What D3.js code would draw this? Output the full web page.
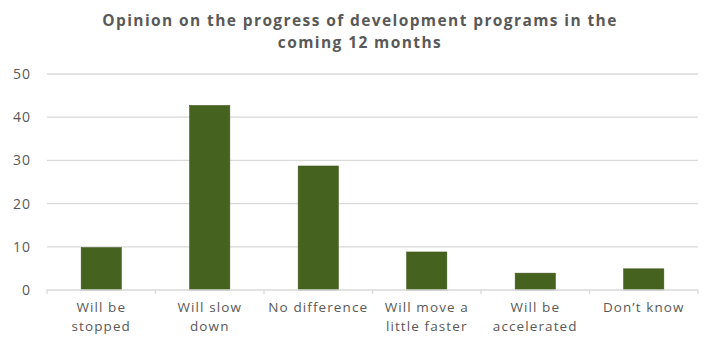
<!DOCTYPE html>
<html><head><meta charset="utf-8">
<script src="https://cdn.jsdelivr.net/npm/d3@7"></script>
<style>body{margin:0;background:#fff;} svg{display:block;}</style>
</head><body>
<svg id="c" width="716" height="342"></svg>
<script>
const categories = [["Will be","stopped"],["Will slow","down"],["No difference"],["Will move a","little faster"],["Will be","accelerated"],["Don\u2019t know"]];
const values = [9.8, 42.7, 28.7, 8.8, 3.9, 4.9];
const yTicks = [0,10,20,30,40,50];
const titleLines = ["Opinion on the progress of development programs in the","coming 12 months"];

(function(){
const svg = d3.select("#c");
const font = "'Open Sans', 'Noto Sans', sans-serif";
const mLeft = 47, mRight = 698, mTop = 74, mBottom = 290;
const keys = categories.map((d,i)=>i);
const x = d3.scaleBand().domain(keys).range([mLeft,mRight]).paddingInner(0.63).paddingOuter(0.315);
const xb = d3.scaleBand().domain(keys).range([mLeft,mRight]);
const y = d3.scaleLinear().domain([0,50]).range([mBottom,mTop]);

svg.append("g").selectAll("line").data(yTicks.filter(t=>t>0)).join("line")
  .attr("x1",mLeft).attr("x2",mRight).attr("y1",d=>y(d)).attr("y2",d=>y(d))
  .attr("stroke","#d9d9d9").attr("stroke-width",1.3);

svg.append("g").selectAll("text").data(yTicks).join("text")
  .attr("x",31).attr("y",d=>y(d)).attr("dy","0.35em").attr("text-anchor","end")
  .attr("font-family",font).attr("font-size",14).attr("letter-spacing",1).attr("fill","#595959").text(d=>d);

svg.append("g").selectAll("rect").data(values).join("rect")
  .attr("x",(d,i)=>x(i)).attr("width",x.bandwidth())
  .attr("y",d=>y(d)).attr("height",d=>y(0)-y(d))
  .attr("fill","#46621f").attr("stroke","#3d5619").attr("stroke-width",0.6);

svg.append("line").attr("x1",mLeft).attr("x2",mRight).attr("y1",mBottom).attr("y2",mBottom)
  .attr("stroke","#d9d9d9").attr("stroke-width",1.3);
svg.append("g").selectAll("line").data(d3.range(categories.length+1)).join("line")
  .attr("x1",d=>mLeft+d*xb.step()).attr("x2",d=>mLeft+d*xb.step())
  .attr("y1",mBottom).attr("y2",mBottom+4).attr("stroke","#d9d9d9").attr("stroke-width",1.3);

const cl = svg.append("g").selectAll("text").data(categories).join("text")
  .attr("text-anchor","middle").attr("font-family",font).attr("font-size",13.5).attr("letter-spacing",1.1).attr("fill","#595959")
  .attr("transform",(d,i)=>`translate(${xb(i)+xb.bandwidth()/2},312)`);
cl.selectAll("tspan").data(d=>d).join("tspan").attr("x",0).attr("y",(d,j)=>j*18.5).text(d=>d);

svg.append("g").selectAll("text").data(titleLines).join("text")
  .attr("x",360).attr("y",(d,i)=>26+i*22).attr("text-anchor","middle")
  .attr("font-family",font).attr("font-size",15.5).attr("letter-spacing",1.4).attr("font-weight","bold").attr("fill","#595959")
  .text(d=>d);
})();
</script>
</body></html>
